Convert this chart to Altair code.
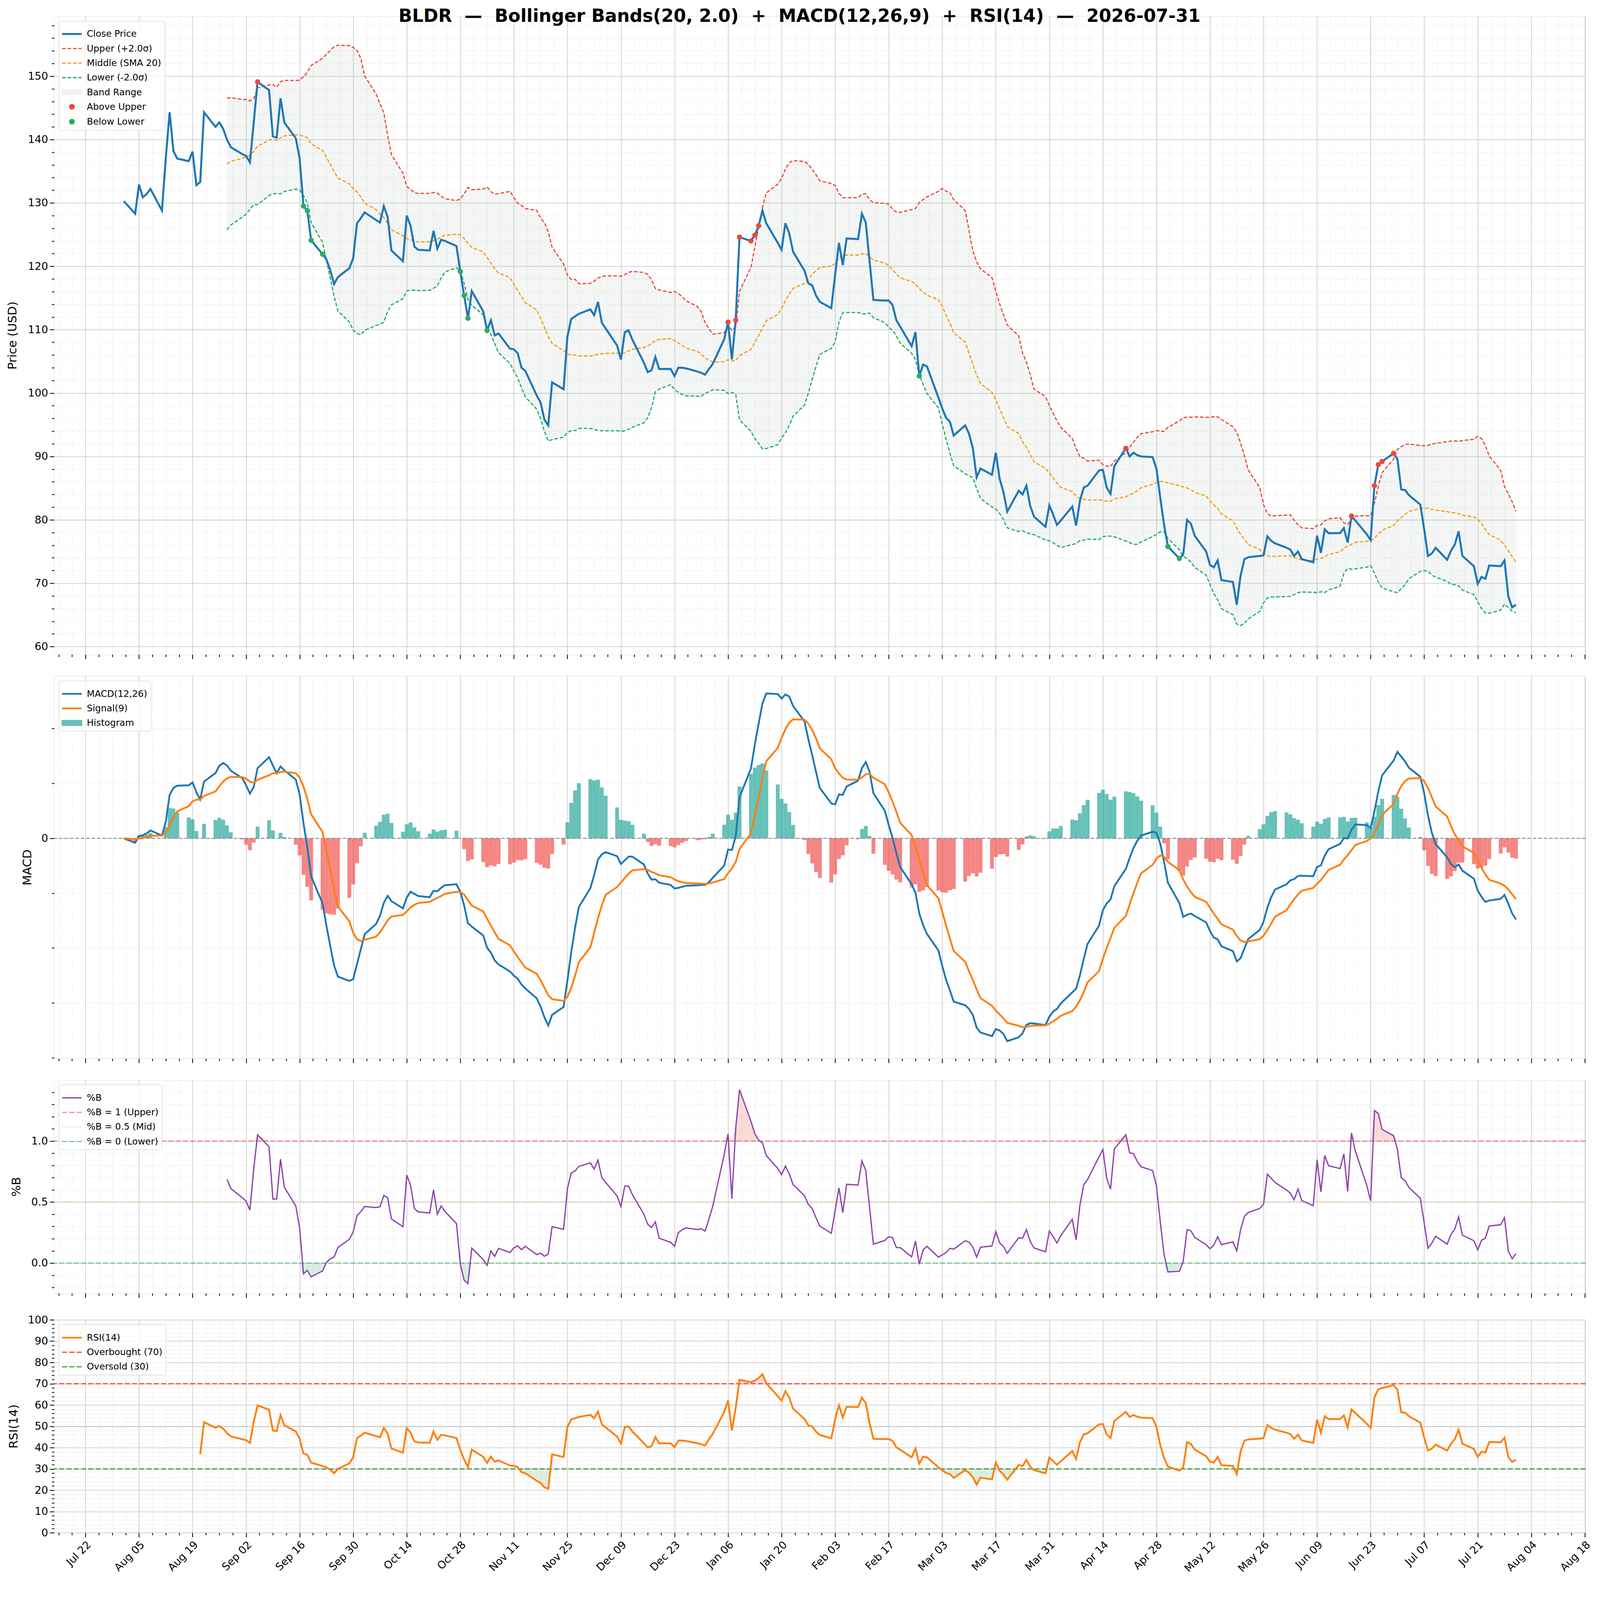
import json
import math

import altair as alt
import numpy as np
import pandas as pd

# ----------------------------------------------------------------------------
# Data (business-day closes)
# ----------------------------------------------------------------------------
TICKER = "BLDR"
START = "2025-08-01"
END = "2026-07-31"

CLOSE = [
    130.3,                                   # Aug 1
    128.3, 132.9, 130.9, 131.4, 132.2,       # Aug 4-8
    128.8, 137.0, 144.3, 138.2, 137.0,       # Aug 11-15
    136.6, 138.1, 132.8, 133.3, 144.3,       # Aug 18-22
    142.0, 142.7, 141.7, 140.0, 138.8,       # Aug 25-29
    137.7, 137.4, 136.4, 142.7, 149.1,       # Sep 1-5
    147.8, 140.5, 140.3, 146.5, 142.7,       # Sep 8-12
    140.2, 137.0, 129.5, 128.8, 124.1,       # Sep 15-19
    121.9, 121.1, 119.4, 117.2, 118.3,       # Sep 22-26
    119.7, 121.3, 126.8, 127.6, 128.5,       # Sep 29-Oct 3
    127.3, 126.9, 129.5, 127.8, 122.5,       # Oct 6-10
    120.8, 128.0, 126.4, 123.1, 122.6,       # Oct 13-17
    122.5, 125.6, 122.8, 124.2, 124.0,       # Oct 20-24
    123.2, 119.2, 115.4, 111.8, 116.1,       # Oct 27-31
    112.9, 109.9, 111.5, 109.1, 109.4,       # Nov 3-7
    107.0, 106.9, 106.3, 104.0, 103.5,       # Nov 10-14
    99.6, 98.5, 95.8, 94.9, 101.7,           # Nov 17-21
    100.6, 108.9, 111.7, 112.1, 112.5,       # Nov 24-28
    113.2, 112.3, 114.4, 111.1, 110.2,       # Dec 1-5
    107.5, 105.3, 109.6, 109.9, 108.4,       # Dec 8-12
    104.8, 103.3, 103.6, 105.7, 103.8,       # Dec 15-19
    103.8, 102.7, 104.0, 104.0, 103.9,       # Dec 22-26
    103.4, 103.2, 102.9, 103.8, 104.6,       # Dec 29-Jan 2
    108.5, 111.2, 105.3, 111.5, 124.6,       # Jan 5-9
    124.0, 124.9, 126.4, 128.8, 126.8,       # Jan 12-16
    123.7, 122.6, 126.8, 125.2, 122.3,       # Jan 19-23
    119.3, 117.3, 117.0, 115.4, 114.4,       # Jan 26-30
    113.4, 118.7, 123.7, 120.2, 124.4,       # Feb 2-6
    124.3, 128.3, 126.9, 120.8, 114.7,       # Feb 9-13
    114.6, 114.6, 113.9, 111.5, 110.5,       # Feb 16-20
    107.4, 109.6, 102.7, 104.5, 104.2,       # Feb 23-27
    99.3, 97.6, 96.1, 95.5, 93.3,            # Mar 2-6
    94.9, 93.6, 91.3, 86.7, 88.1,            # Mar 9-13
    87.1, 90.6, 86.5, 84.4, 81.3,            # Mar 16-20
    84.6, 84.0, 85.4, 82.2, 80.5,            # Mar 23-27
    78.9, 82.3, 80.8, 79.2, 79.9,            # Mar 30-Apr 3
    82.1, 79.1, 83.0, 85.1, 85.4,            # Apr 6-10
    87.8, 87.9, 85.1, 84.1, 88.5,            # Apr 13-17
    91.3, 90.0, 90.6, 90.2, 90.0,            # Apr 20-24
    89.9, 88.1, 83.5, 79.2, 75.8,            # Apr 27-May 1
    73.9, 74.5, 80.0, 79.4, 77.5,            # May 4-8
    75.0, 72.9, 72.5, 73.6, 70.5,            # May 11-15
    70.2, 66.6, 71.2, 73.8, 74.1,            # May 18-22
    74.3, 74.4, 77.4, 76.7, 76.3,            # May 25-29
    75.6, 75.3, 74.3, 75.0, 73.8,            # Jun 1-5
    73.3, 77.5, 74.8, 78.5, 77.9,            # Jun 8-12
    77.9, 78.7, 76.4, 80.6, 79.9,            # Jun 15-19
    77.7, 76.8, 85.4, 88.7, 89.2,            # Jun 22-26
    90.5, 89.6, 84.8, 84.7, 83.9,            # Jun 29-Jul 3
    82.4, 78.5, 74.3, 74.7, 75.6,            # Jul 6-10
    73.7, 75.1, 76.1, 78.2, 74.3,            # Jul 13-17
    72.7, 69.9, 71.0, 70.7, 72.8,            # Jul 20-24
    72.7, 73.6, 67.9, 66.2, 66.6,            # Jul 27-31
]

BB_WIN, BB_K = 20, 2.0
MACD_FAST, MACD_SLOW, MACD_SIG = 12, 26, 9
RSI_N = 14

PRICE_LABELS = ["Close Price", "Upper (+2.0σ)", "Middle (SMA 20)", "Lower (-2.0σ)",
                "Band Range", "Above Upper", "Below Lower"]
PRICE_COLORS = ["#1f77b4", "#e74c3c", "#f39c12", "#27ae60", "#95a5a6", "#e74c3c", "#27ae60"]

MACD_LABELS = ["MACD(12,26)", "Signal(9)", "Histogram", "Histogram (neg)"]
MACD_COLORS = ["#1f77b4", "#ff7f0e", "#26a69a", "#ef5350"]

PB_LABELS = ["%B", "%B = 1 (Upper)", "%B = 0.5 (Mid)", "%B = 0 (Lower)"]
PB_COLORS = ["#8e44ad", "#e74c3c", "#f39c12", "#27ae60"]
PB_LEVELS = [1.0, 0.5, 0.0]

RSI_LABELS = ["RSI(14)", "Overbought (70)", "Oversold (30)"]
RSI_COLORS = ["#ff7f0e", "#f23535", "#2a9a2a"]
RSI_LEVELS = [70, 30]

TITLE = f"{TICKER}  —  Bollinger Bands(20, 2.0)  +  MACD(12,26,9)  +  RSI(14)  —  {END}"

# ----------------------------------------------------------------------------
# Indicators derived from the close series
# ----------------------------------------------------------------------------
dates = pd.bdate_range(START, END)
close = pd.Series(CLOSE, index=dates, dtype=float)

mid = close.rolling(BB_WIN).mean()
sd = close.rolling(BB_WIN).std()
upper = mid + BB_K * sd
lower = mid - BB_K * sd
pctb = (close - lower) / (upper - lower)

ema_f = close.ewm(span=MACD_FAST, adjust=False).mean()
ema_s = close.ewm(span=MACD_SLOW, adjust=False).mean()
macd = ema_f - ema_s
signal = macd.ewm(span=MACD_SIG, adjust=False).mean()
hist = macd - signal

delta = close.diff()
gain = delta.clip(lower=0)
loss = -delta.clip(upper=0)
avg_g = gain.ewm(alpha=1 / RSI_N, adjust=False, min_periods=RSI_N).mean()
avg_l = loss.ewm(alpha=1 / RSI_N, adjust=False, min_periods=RSI_N).mean()
rsi = 100 - 100 / (1 + avg_g / avg_l)

DAY = 86400000
t_ms = ((dates - pd.Timestamp("1970-01-01")) // pd.Timedelta(milliseconds=1)).astype("int64")
T = list(int(v) for v in t_ms)

# ----------------------------------------------------------------------------
# Styling helpers
# ----------------------------------------------------------------------------
FONT = "DejaVu Sans"
GRID_MAJ = "#d2d2d2"
GRID_MIN = "#e3e3e3"
W = 4208
H_PRICE, H_MACD, H_PB, H_RSI = 1754, 1051, 586, 585

span = T[-1] - T[0]
XMIN = T[0] - 0.05 * span
XMAX = T[-1] + 0.05 * span
T0 = int(pd.Timestamp("2025-07-22").value // 10**6)
STEP_MIN = int(3.5 * DAY)
X_VALUES = [T0 + k * STEP_MIN for k in range(-4, 120) if XMIN <= T0 + k * STEP_MIN <= XMAX]
X_MAJOR = f"((datum.value - {T0}) % {14 * DAY}) == 0"

xscale = alt.Scale(type="utc", domain=[XMIN, XMAX], nice=False)


def x_axis(show_labels):
    kw = dict(
        values=X_VALUES, title=None, grid=True, domain=False,
        gridColor={"condition": {"test": X_MAJOR, "value": GRID_MAJ}, "value": GRID_MIN},
        gridDash={"condition": {"test": X_MAJOR, "value": []}, "value": [3, 3]},
        gridWidth={"condition": {"test": X_MAJOR, "value": 2.2}, "value": 1.4},
        tickSize={"condition": {"test": X_MAJOR, "value": 12}, "value": 6.5},
        tickWidth=2.2, tickColor="black", labels=show_labels,
    )
    if show_labels:
        kw.update(
            labelExpr=f"{X_MAJOR} ? utcFormat(datum.value, '%b %d') : ''",
            labelAngle=315, labelAlign="right", labelBaseline="top",
            labelFontSize=29, labelFont=FONT, labelColor="black", labelPadding=6,
            labelOverlap=False, labelFlush=False, labelBound=False,
        )
    return alt.Axis(**kw)


def y_axis(title, values, major, label_expr, extent, tpad, grid_major=True):
    return alt.Axis(
        title=title, values=values, labelExpr=label_expr, grid=True, domain=False,
        gridColor={"condition": {"test": major, "value": GRID_MAJ}, "value": GRID_MIN},
        gridDash={"condition": {"test": major, "value": [] if grid_major else [3, 3]}, "value": [3, 3]},
        gridWidth={"condition": {"test": major, "value": 2.2 if grid_major else 1.4}, "value": 1.4},
        tickSize={"condition": {"test": major, "value": 12}, "value": 6.5},
        tickWidth=2.2, tickColor="black",
        labelFontSize=29, labelFont=FONT, labelColor="black", labelPadding=5,
        labelOverlap=False, labelFlush=False,
        titleFontSize=33, titleFont=FONT, titleFontWeight="normal", titleColor="black",
        titlePadding=tpad, minExtent=extent, maxExtent=extent,
    )


RECT = "M-1,-0.25H1V0.25H-1Z"
DOT = "M0.22,0A0.22,0.22,0,1,1,-0.22,0A0.22,0.22,0,1,1,0.22,0Z"
SHAPES = {"line": "stroke", "rect": RECT, "dot": DOT}


def pick(labels, vals, default):
    expr = default
    for lab, v in reversed(list(zip(labels, vals))):
        expr = f"(datum.value === {json.dumps(lab, ensure_ascii=False)} ? {v} : {expr})"
    return {"expr": expr}


def legend(labels, kinds, widths, dashes, opac, values=None):
    kw = dict(
        title=None, orient="top-left", offset=13, padding=9,
        fillColor="rgba(255,255,255,0.8)", strokeColor="#c8c8c8", cornerRadius=6,
        labelFont=FONT, labelFontSize=25, labelColor="black", labelLimit=900, labelOffset=14,
        rowPadding=-7, symbolSize=2916,
        symbolType=pick(labels, [json.dumps(SHAPES[k]) for k in kinds], '"stroke"'),
        symbolStrokeWidth=pick(labels, [str(w) for w in widths], "0"),
        symbolDash=pick(labels, [json.dumps(d) for d in dashes], "[]"),
        symbolOpacity=pick(labels, [str(o) for o in opac], "1"),
    )
    if values is not None:
        kw["values"] = values
    return alt.Legend(**kw)


# ----------------------------------------------------------------------------
# Panel 1: price + Bollinger bands
# ----------------------------------------------------------------------------
p_lo = float(min(close.min(), lower.min()))
p_hi = float(max(close.max(), upper.max()))
p_pad = 0.05 * (p_hi - p_lo)
P_DOM = [p_lo - p_pad, p_hi + p_pad]
P_VALUES = list(range(int(math.ceil(P_DOM[0] / 2) * 2), int(math.floor(P_DOM[1] / 2) * 2) + 1, 2))
pscale = alt.Scale(domain=P_DOM, nice=False, zero=False)
p_axis = y_axis("Price (USD)", P_VALUES, "datum.value % 10 === 0",
                "datum.value % 10 === 0 ? format(datum.value, 'd') : ''", 75, 22)
p_leg = legend(PRICE_LABELS, ["line", "line", "line", "line", "rect", "dot", "dot"],
               [5.5, 3.3, 3.3, 3.3, 3, 4, 4],
               [[], [10, 5], [10, 5], [10, 5], [], [], []],
               [1, 1, 1, 1, 0.12, 1, 1])
p_color = lambda: alt.Color("series:N", scale=alt.Scale(domain=PRICE_LABELS, range=PRICE_COLORS),
                            legend=p_leg)
px = lambda: alt.X("t:T", scale=xscale, axis=x_axis(False))
py = lambda f: alt.Y(f"{f}:Q", scale=pscale, axis=p_axis)

band_df = pd.DataFrame({"t": T, "lo": lower.values, "hi": upper.values,
                        "series": PRICE_LABELS[4]}).dropna()
lines_df = pd.concat([
    pd.DataFrame({"t": T, "value": upper.values, "series": PRICE_LABELS[1]}),
    pd.DataFrame({"t": T, "value": mid.values, "series": PRICE_LABELS[2]}),
    pd.DataFrame({"t": T, "value": lower.values, "series": PRICE_LABELS[3]}),
]).dropna()
close_df = pd.DataFrame({"t": T, "value": close.values, "series": PRICE_LABELS[0]})
above = (close > upper).values
below = (close < lower).values
dots_df = pd.concat([
    pd.DataFrame({"t": np.array(T)[above], "value": close.values[above], "series": PRICE_LABELS[5]}),
    pd.DataFrame({"t": np.array(T)[below], "value": close.values[below], "series": PRICE_LABELS[6]}),
])

price = alt.layer(
    alt.Chart(band_df).mark_area().encode(
        x=px(), y=py("hi"), y2="lo:Q", color=p_color(), opacity=alt.value(0.1)),
    alt.Chart(lines_df).mark_line().encode(
        x=px(), y=py("value"), color=p_color(), detail="series:N",
        strokeDash=alt.value([10, 5]), strokeWidth=alt.value(3.3)),
    alt.Chart(close_df).mark_line().encode(
        x=px(), y=py("value"), color=p_color(), strokeWidth=alt.value(5.5)),
    alt.Chart(dots_df).mark_point(filled=True).encode(
        x=px(), y=py("value"), color=p_color(), size=alt.value(210), opacity=alt.value(1)),
).properties(width=W, height=H_PRICE)

# ----------------------------------------------------------------------------
# Panel 2: MACD
# ----------------------------------------------------------------------------
mv = pd.concat([macd, signal, hist])
m_lo, m_hi = float(mv.min()), float(mv.max())
m_pad = 0.05 * (m_hi - m_lo)
M_DOM = [m_lo - m_pad, m_hi + m_pad]
raw = (M_DOM[1] - M_DOM[0]) / 6.96
mag = 10 ** math.floor(math.log10(raw))
m_step = min([1, 2, 2.5, 5, 10], key=lambda m: abs(m * mag - raw)) * mag
M_VALUES = [round(k * m_step, 6) for k in range(math.ceil(M_DOM[0] / m_step), math.floor(M_DOM[1] / m_step) + 1)]
mscale = alt.Scale(domain=M_DOM, nice=False, zero=False)
m_axis = y_axis("MACD", M_VALUES, "abs(datum.value) < 1e-9",
                "abs(datum.value) < 1e-9 ? '0' : ''", 36, 20, grid_major=False)
m_leg = legend(MACD_LABELS, ["line", "line", "rect", "rect"], [5, 5, 3, 3],
               [[], [], [], []], [1, 1, 0.7, 0.7], values=MACD_LABELS[:3])
m_color = lambda: alt.Color("series:N", scale=alt.Scale(domain=MACD_LABELS, range=MACD_COLORS),
                            legend=m_leg)
my = lambda f: alt.Y(f"{f}:Q", scale=mscale, axis=m_axis)

hist_df = pd.DataFrame({
    "t0": [v - DAY // 2 for v in T], "t1": [v + DAY // 2 for v in T], "hist": hist.values,
    "series": [MACD_LABELS[2] if h >= 0 else MACD_LABELS[3] for h in hist.values],
})
macd_lines = pd.concat([
    pd.DataFrame({"t": T, "value": macd.values, "series": MACD_LABELS[0]}),
    pd.DataFrame({"t": T, "value": signal.values, "series": MACD_LABELS[1]}),
])
zero_df = pd.DataFrame({"level": [0.0]})

macd_chart = alt.layer(
    alt.Chart(hist_df).mark_bar().encode(
        x=alt.X("t0:T", scale=xscale, axis=x_axis(False)), x2="t1:T",
        y=my("hist"), y2=alt.datum(0), color=m_color(), opacity=alt.value(0.7)),
    alt.Chart(zero_df).mark_rule().encode(
        y=my("level"), color=alt.value("#888888"), strokeDash=alt.value([10, 5]),
        strokeWidth=alt.value(2.5)),
    alt.Chart(macd_lines).mark_line().encode(
        x=alt.X("t:T", scale=xscale, axis=x_axis(False)), y=my("value"), color=m_color(),
        detail="series:N", strokeWidth=alt.value(5)),
).properties(width=W, height=H_MACD)

# ----------------------------------------------------------------------------
# Panel 3: %B
# ----------------------------------------------------------------------------
pb = pctb.dropna()
b_lo, b_hi = float(pb.min()), float(pb.max())
b_pad = 0.05 * (b_hi - b_lo)
B_DOM = [b_lo - b_pad, b_hi + b_pad]
B_VALUES = [round(k * 0.1, 1) for k in range(math.ceil(B_DOM[0] * 10), math.floor(B_DOM[1] * 10) + 1)]
bscale = alt.Scale(domain=B_DOM, nice=False, zero=False)
B_MAJOR = "abs(datum.value * 2 - round(datum.value * 2)) < 1e-6"
b_axis = y_axis("%B", B_VALUES, B_MAJOR, f"{B_MAJOR} ? format(datum.value, '.1f') : ''", 66, 20)
b_leg = legend(PB_LABELS, ["line", "line", "line", "line"], [3.5, 2.6, 2.6, 2.6],
               [[], [14, 6], [3, 5], [14, 6]], [1, 0.7, 0.5, 0.7])
b_color = lambda: alt.Color("series:N", scale=alt.Scale(domain=PB_LABELS, range=PB_COLORS),
                            legend=b_leg)
bx = lambda: alt.X("t:T", scale=xscale, axis=x_axis(False))
by = lambda f: alt.Y(f"{f}:Q", scale=bscale, axis=b_axis)

pb_df = pd.DataFrame({"t": T, "value": pctb.values, "series": PB_LABELS[0]}).dropna()
pb_rules = [pd.DataFrame({"level": [lvl], "series": [lab]}) for lvl, lab in zip(PB_LEVELS, PB_LABELS[1:])]
pb_dash = [[14, 6], [3, 5], [14, 6]]
pb_op = [0.7, 0.5, 0.7]

pb_chart = alt.layer(
    alt.Chart(pb_df).transform_calculate(hi="max(datum.value, 1)").mark_area().encode(
        x=bx(), y=by("hi"), y2=alt.datum(1), color=alt.value("#e74c3c"), opacity=alt.value(0.2)),
    alt.Chart(pb_df).transform_calculate(lo="min(datum.value, 0)").mark_area().encode(
        x=bx(), y=by("lo"), y2=alt.datum(0), color=alt.value("#27ae60"), opacity=alt.value(0.2)),
    *[alt.Chart(d).mark_rule().encode(
        y=by("level"), color=b_color(), strokeDash=alt.value(ds), opacity=alt.value(op),
        strokeWidth=alt.value(2.6)) for d, ds, op in zip(pb_rules, pb_dash, pb_op)],
    alt.Chart(pb_df).mark_line().encode(
        x=bx(), y=by("value"), color=b_color(), strokeWidth=alt.value(3.5)),
).properties(width=W, height=H_PB)

# ----------------------------------------------------------------------------
# Panel 4: RSI
# ----------------------------------------------------------------------------
rscale = alt.Scale(domain=[0, 100], nice=False, zero=False)
r_axis = y_axis("RSI(14)", list(range(0, 101, 2)), "datum.value % 10 === 0",
                "datum.value % 10 === 0 ? format(datum.value, 'd') : ''", 75, 19)
r_leg = legend(RSI_LABELS, ["line", "line", "line"], [5, 3.2, 3.2],
               [[], [14, 6], [14, 6]], [1, 0.9, 0.9])
r_color = lambda: alt.Color("series:N", scale=alt.Scale(domain=RSI_LABELS, range=RSI_COLORS),
                            legend=r_leg)
rx = lambda: alt.X("t:T", scale=xscale, axis=x_axis(True))
ry = lambda f: alt.Y(f"{f}:Q", scale=rscale, axis=r_axis)

rsi_df = pd.DataFrame({"t": T, "value": rsi.values, "series": RSI_LABELS[0]}).dropna()
rsi_rules = [pd.DataFrame({"level": [lvl], "series": [lab]}) for lvl, lab in zip(RSI_LEVELS, RSI_LABELS[1:])]
mid_df = pd.DataFrame({"level": [50]})

rsi_chart = alt.layer(
    alt.Chart(rsi_df).transform_calculate(hi="max(datum.value, 70)").mark_area().encode(
        x=rx(), y=ry("hi"), y2=alt.datum(70), color=alt.value("#f23535"), opacity=alt.value(0.15)),
    alt.Chart(rsi_df).transform_calculate(lo="min(datum.value, 30)").mark_area().encode(
        x=rx(), y=ry("lo"), y2=alt.datum(30), color=alt.value("#2a9a2a"), opacity=alt.value(0.15)),
    alt.Chart(mid_df).mark_rule().encode(
        y=ry("level"), color=alt.value("#8a8a8a"), strokeDash=alt.value([3, 4]),
        strokeWidth=alt.value(2), opacity=alt.value(0.7)),
    *[alt.Chart(d).mark_rule().encode(
        y=ry("level"), color=r_color(), strokeDash=alt.value([14, 6]), opacity=alt.value(0.9),
        strokeWidth=alt.value(3.2)) for d in rsi_rules],
    alt.Chart(rsi_df).mark_line().encode(
        x=rx(), y=ry("value"), color=r_color(), strokeWidth=alt.value(5)),
).properties(width=W, height=H_RSI)

# ----------------------------------------------------------------------------
chart = alt.vconcat(
    price, macd_chart, pb_chart, rsi_chart, spacing=44,
).resolve_scale(color="independent").properties(
    title=alt.TitleParams(TITLE.replace("  ", "\u00a0\u00a0"), fontSize=49, fontWeight="bold",
                          font=FONT, color="black", anchor="middle", offset=-26),
    padding={"left": 9, "top": -141, "right": 12, "bottom": 6},
).configure_view(stroke="black", strokeWidth=2.5).configure(font=FONT, background="white")

chart.save("out.html", embed_options={"renderer": "svg", "actions": False})
